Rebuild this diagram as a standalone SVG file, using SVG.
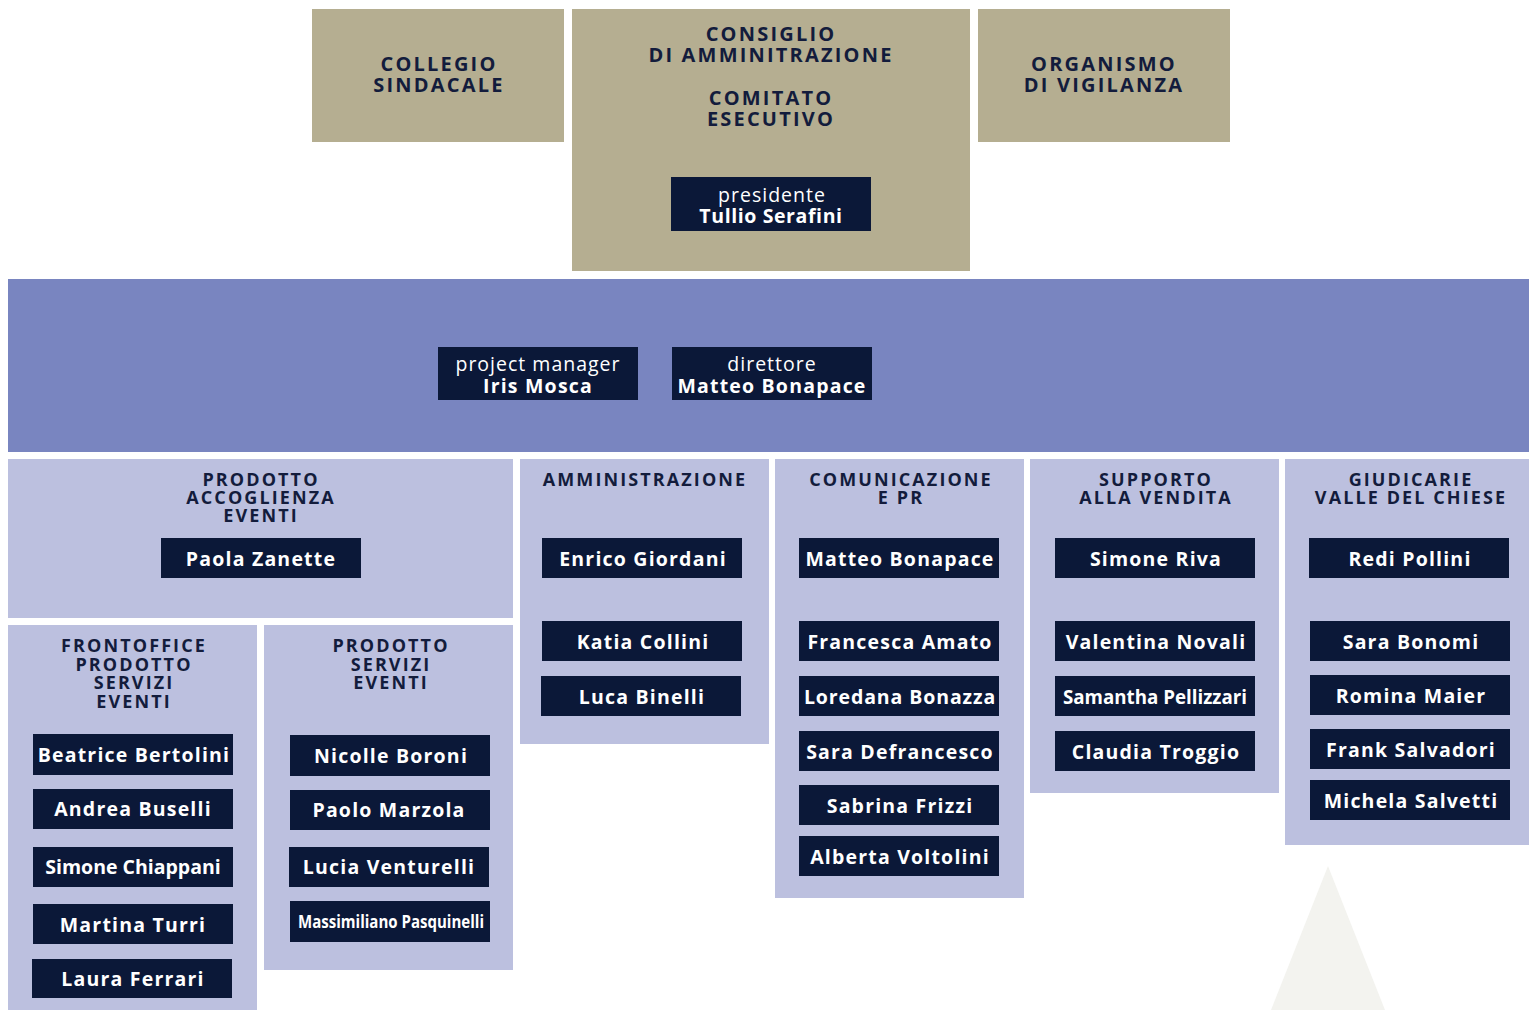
<svg xmlns="http://www.w3.org/2000/svg" width="1529" height="1010" viewBox="0 0 1529 1010">
<style>
.tan{fill:#b5ae91}
.band{fill:#7985c0}
.sec{fill:#bcc0df}
.box{fill:#0b1838}
.h{font-family:"Open Sans",Lato,sans-serif;font-weight:700;fill:#131c3c;text-anchor:middle}
.ht{font-size:20px;letter-spacing:2.2px}
.hs{font-size:18px;letter-spacing:2.1px}
.n{font-family:"Open Sans",Lato,sans-serif;font-weight:700;font-size:19.5px;letter-spacing:1.2px;fill:#ffffff;text-anchor:middle}
.r{font-family:"Open Sans",Lato,sans-serif;font-weight:400;font-size:19.5px;letter-spacing:1px;fill:#ffffff;text-anchor:middle}
</style>
<rect width="1529" height="1010" fill="#ffffff"/>
<polygon points="1328,866 1271,1010 1385,1010" fill="#f3f3ef"/>

<g id="collegio">
<rect class="tan" x="312" y="9" width="252" height="133"/>
<text class="h ht" x="439" y="71">COLLEGIO</text>
<text class="h ht" x="439" y="92">SINDACALE</text>
</g>
<g id="consiglio">
<rect class="tan" x="572" y="9" width="398" height="262"/>
<text class="h ht" x="771" y="41">CONSIGLIO</text>
<text class="h ht" x="771" y="62">DI AMMINITRAZIONE</text>
<text class="h ht" x="771" y="105">COMITATO</text>
<text class="h ht" x="771" y="126">ESECUTIVO</text>
</g>
<g id="presidente">
<rect class="box" x="671" y="177" width="200" height="54"/>
<text class="r" x="772" y="202">presidente</text>
<text class="n" x="771" y="223" style="letter-spacing:0.6px">Tullio Serafini</text>
</g>
<g id="organismo">
<rect class="tan" x="978" y="9" width="252" height="133"/>
<text class="h ht" x="1104" y="71">ORGANISMO</text>
<text class="h ht" x="1104" y="92">DI VIGILANZA</text>
</g>

<g id="direzione">
<rect class="band" x="8" y="279" width="1521" height="173"/>
</g>
<g id="project-manager">
<rect class="box" x="438" y="347" width="200" height="53"/>
<text class="r" x="538" y="371">project manager</text>
<text class="n" x="538" y="393">Iris Mosca</text>
</g>
<g id="direttore">
<rect class="box" x="672" y="347" width="200" height="53"/>
<text class="r" x="772" y="371">direttore</text>
<text class="n" x="772" y="393">Matteo Bonapace</text>
</g>

<g id="prodotto-accoglienza">
<rect class="sec" x="8" y="459" width="505" height="159"/>
<text class="h hs" x="261" y="486">PRODOTTO</text>
<text class="h hs" x="261" y="504">ACCOGLIENZA</text>
<text class="h hs" x="261" y="522">EVENTI</text>
<rect class="box" x="161" y="538" width="200" height="40"/>
<text class="n" x="261" y="566">Paola Zanette</text>
</g>

<g id="frontoffice">
<rect class="sec" x="8" y="625" width="249" height="385"/>
<text class="h hs" x="134" y="652">FRONTOFFICE</text>
<text class="h hs" x="134" y="671">PRODOTTO</text>
<text class="h hs" x="134" y="689">SERVIZI</text>
<text class="h hs" x="134" y="708">EVENTI</text>
<rect class="box" x="33" y="734" width="200" height="41"/>
<text class="n" x="134" y="762">Beatrice Bertolini</text>
<rect class="box" x="33" y="789" width="200" height="40"/>
<text class="n" x="133" y="816">Andrea Buselli</text>
<rect class="box" x="33" y="847" width="200" height="40"/>
<text class="n" x="133" y="874" style="letter-spacing:0">Simone Chiappani</text>
<rect class="box" x="33" y="904" width="200" height="40"/>
<text class="n" x="133" y="932">Martina Turri</text>
<rect class="box" x="32" y="959" width="200" height="39"/>
<text class="n" x="133" y="986">Laura Ferrari</text>
</g>

<g id="prodotto-servizi">
<rect class="sec" x="264" y="625" width="249" height="345"/>
<text class="h hs" x="391" y="652">PRODOTTO</text>
<text class="h hs" x="391" y="671">SERVIZI</text>
<text class="h hs" x="391" y="689">EVENTI</text>
<rect class="box" x="290" y="735" width="200" height="41"/>
<text class="n" x="391" y="763">Nicolle Boroni</text>
<rect class="box" x="290" y="790" width="200" height="40"/>
<text class="n" x="389" y="817">Paolo Marzola</text>
<rect class="box" x="289" y="847" width="200" height="40"/>
<text class="n" x="389" y="874">Lucia Venturelli</text>
<rect class="box" x="290" y="901" width="200" height="41"/>
<text class="n" x="391" y="928" style="font-size:18px;letter-spacing:0" textLength="186" lengthAdjust="spacingAndGlyphs">Massimiliano Pasquinelli</text>
</g>

<g id="amministrazione">
<rect class="sec" x="520" y="459" width="249" height="285"/>
<text class="h hs" x="645" y="486">AMMINISTRAZIONE</text>
<rect class="box" x="542" y="538" width="200" height="40"/>
<text class="n" x="643" y="566">Enrico Giordani</text>
<rect class="box" x="542" y="621" width="200" height="40"/>
<text class="n" x="643" y="649">Katia Collini</text>
<rect class="box" x="541" y="676" width="200" height="40"/>
<text class="n" x="642" y="704">Luca Binelli</text>
</g>

<g id="comunicazione">
<rect class="sec" x="775" y="459" width="249" height="439"/>
<text class="h hs" x="901" y="486">COMUNICAZIONE</text>
<text class="h hs" x="901" y="504">E PR</text>
<rect class="box" x="799" y="538" width="200" height="40"/>
<text class="n" x="900" y="566">Matteo Bonapace</text>
<rect class="box" x="799" y="621" width="200" height="40"/>
<text class="n" x="900" y="649">Francesca Amato</text>
<rect class="box" x="799" y="676" width="200" height="40"/>
<text class="n" x="900" y="704" style="letter-spacing:0.9px">Loredana Bonazza</text>
<rect class="box" x="799" y="731" width="200" height="40"/>
<text class="n" x="900" y="759">Sara Defrancesco</text>
<rect class="box" x="799" y="785" width="200" height="40"/>
<text class="n" x="900" y="813">Sabrina Frizzi</text>
<rect class="box" x="799" y="836" width="200" height="40"/>
<text class="n" x="900" y="864">Alberta Voltolini</text>
</g>

<g id="supporto">
<rect class="sec" x="1030" y="459" width="249" height="334"/>
<text class="h hs" x="1156" y="486">SUPPORTO</text>
<text class="h hs" x="1156" y="504">ALLA VENDITA</text>
<rect class="box" x="1055" y="538" width="200" height="40"/>
<text class="n" x="1156" y="566">Simone Riva</text>
<rect class="box" x="1055" y="621" width="200" height="40"/>
<text class="n" x="1156" y="649">Valentina Novali</text>
<rect class="box" x="1055" y="676" width="200" height="40"/>
<text class="n" x="1155" y="704" style="letter-spacing:0" textLength="184" lengthAdjust="spacingAndGlyphs">Samantha Pellizzari</text>
<rect class="box" x="1055" y="731" width="200" height="40"/>
<text class="n" x="1156" y="759">Claudia Troggio</text>
</g>

<g id="giudicarie">
<rect class="sec" x="1285" y="459" width="244" height="386"/>
<text class="h hs" x="1411" y="486">GIUDICARIE</text>
<text class="h hs" x="1411" y="504">VALLE DEL CHIESE</text>
<rect class="box" x="1309" y="538" width="200" height="40"/>
<text class="n" x="1410" y="566">Redi Pollini</text>
<rect class="box" x="1310" y="621" width="200" height="40"/>
<text class="n" x="1411" y="649">Sara Bonomi</text>
<rect class="box" x="1310" y="675" width="200" height="40"/>
<text class="n" x="1411" y="703">Romina Maier</text>
<rect class="box" x="1310" y="729" width="200" height="40"/>
<text class="n" x="1411" y="757">Frank Salvadori</text>
<rect class="box" x="1310" y="780" width="200" height="40"/>
<text class="n" x="1411" y="808">Michela Salvetti</text>
</g>

<g id="connectors"></g>
</svg>
